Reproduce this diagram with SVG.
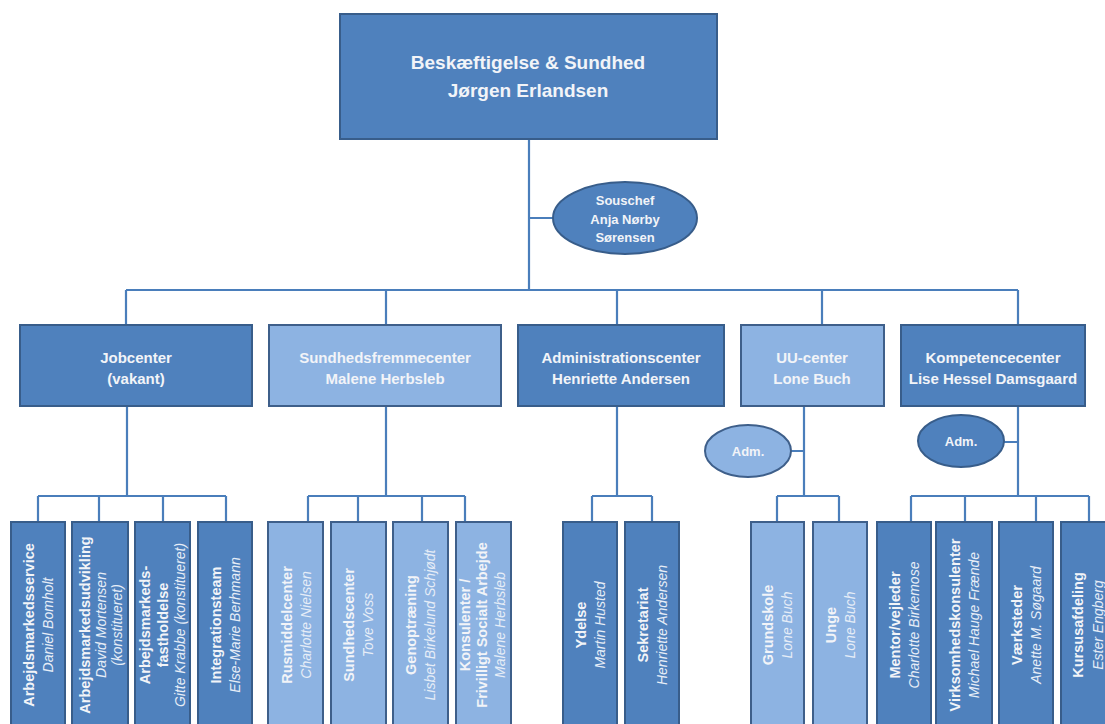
<svg xmlns="http://www.w3.org/2000/svg" width="1105" height="724" viewBox="0 0 1105 724">
<style>
.dk{fill:#4F81BD;stroke:#385D8A;stroke-width:2}
.lt{fill:#8DB3E2;stroke:#3E5F8A;stroke-width:2}
.ln{fill:none;stroke:#4A7EBB;stroke-width:2.2}
text{font-family:"Liberation Sans",Arial,sans-serif;fill:#F2F4F8;text-anchor:middle}
.h1{font-size:19px;font-weight:bold}
.h2{font-size:15px;font-weight:bold}
.h3{font-size:13px;font-weight:bold}
.b{font-size:14.5px;font-weight:bold;dominant-baseline:central}
.i{font-size:14px;font-style:italic;dominant-baseline:central;fill:#E6EDF7}
</style>
<rect width="1105" height="724" fill="#FFFFFF"/>
<g id="connectors">
<path class="ln" d="M529 139V290M529 218H553M126 290H1018M126 290V325M386 290V325M617 290V325M822 290V325M1018 290V325"/>
<path class="ln" d="M127 406V496M38 496H226M38 496V522M99 496V522M163 496V522M226 496V522"/>
<path class="ln" d="M386 406V496M308 496H465M308 496V522M358 496V522M422 496V522M465 496V522"/>
<path class="ln" d="M617 406V496M592 496H652M592 496V522M652 496V522"/>
<path class="ln" d="M804 406V496M791 451H804M777 496H839M777 496V522M839 496V522"/>
<path class="ln" d="M1018 406V496M1004 442H1018M911 496H1089M911 496V522M965 496V522M1036 496V522M1089 496V522"/>
</g>
<g id="top">
<rect class="dk" x="340" y="14" width="377" height="125"/>
<text class="h1" x="528" y="69">Beskæftigelse &amp; Sundhed</text>
<text class="h1" x="528" y="97">Jørgen Erlandsen</text>
</g>
<g id="souschef">
<ellipse class="dk" cx="625" cy="218" rx="72" ry="36"/>
<text class="h3" x="625" y="205">Souschef</text>
<text class="h3" x="625" y="224">Anja Nørby</text>
<text class="h3" x="625" y="242">Sørensen</text>
</g>
<g id="jobcenter">
<rect class="dk" x="20" y="325" width="232" height="81"/>
<text class="h2" x="136" y="363">Jobcenter</text>
<text class="h2" x="136" y="384">(vakant)</text>
</g>
<g id="sundhedsfremmecenter">
<rect class="lt" x="269" y="325" width="232" height="81"/>
<text class="h2" x="385" y="363">Sundhedsfremmecenter</text>
<text class="h2" x="385" y="384">Malene Herbsleb</text>
</g>
<g id="administrationscenter">
<rect class="dk" x="518" y="325" width="206" height="81"/>
<text class="h2" x="621" y="363">Administrationscenter</text>
<text class="h2" x="621" y="384">Henriette Andersen</text>
</g>
<g id="uu-center">
<rect class="lt" x="741" y="325" width="143" height="81"/>
<text class="h2" x="812" y="363">UU-center</text>
<text class="h2" x="812" y="384">Lone Buch</text>
</g>
<g id="kompetencecenter">
<rect class="dk" x="901" y="325" width="184" height="81"/>
<text class="h2" x="993" y="363">Kompetencecenter</text>
<text class="h2" x="993" y="384">Lise Hessel Damsgaard</text>
</g>
<g id="uu-adm">
<ellipse class="lt" cx="748" cy="451" rx="43" ry="26"/>
<text class="h3" x="748" y="456">Adm.</text>
</g>
<g id="komp-adm">
<ellipse class="dk" cx="961" cy="441" rx="43" ry="26"/>
<text class="h3" x="961" y="446">Adm.</text>
</g>
<g id="arbejdsmarkedsservice">
<rect class="dk" x="11" y="522" width="54" height="210"/>
<text class="b" transform="translate(28.5,625) rotate(-90)">Arbejdsmarkedsservice</text>
<text class="i" transform="translate(47.5,625) rotate(-90)">Daniel Bomholt</text>
</g>
<g id="arbejdsmarkedsudvikling">
<rect class="dk" x="72" y="522" width="56" height="210"/>
<text class="b" transform="translate(85,625) rotate(-90)">Arbejdsmarkedsudvikling</text>
<text class="i" transform="translate(101,625) rotate(-90)">David Mortensen</text>
<text class="i" transform="translate(117,625) rotate(-90)">(konstitueret)</text>
</g>
<g id="fastholdelse">
<rect class="dk" x="135" y="522" width="55" height="210"/>
<text class="b" transform="translate(145,625) rotate(-90)">Arbejdsmarkeds-</text>
<text class="b" transform="translate(162.5,625) rotate(-90)">fastholdelse</text>
<text class="i" transform="translate(180,625) rotate(-90)">Gitte Krabbe (konstitueret)</text>
</g>
<g id="integrationsteam">
<rect class="dk" x="198" y="522" width="54" height="210"/>
<text class="b" transform="translate(216,625) rotate(-90)">Integrationsteam</text>
<text class="i" transform="translate(235,625) rotate(-90)">Else-Marie Berhmann</text>
</g>
<g id="rusmiddelcenter">
<rect class="lt" x="268" y="522" width="55" height="210"/>
<text class="b" transform="translate(287,625) rotate(-90)">Rusmiddelcenter</text>
<text class="i" transform="translate(306,625) rotate(-90)">Charlotte Nielsen</text>
</g>
<g id="sundhedscenter">
<rect class="lt" x="331" y="522" width="55" height="210"/>
<text class="b" transform="translate(349,625) rotate(-90)">Sundhedscenter</text>
<text class="i" transform="translate(368,625) rotate(-90)">Tove Voss</text>
</g>
<g id="genoptraening">
<rect class="lt" x="393" y="522" width="55" height="210"/>
<text class="b" transform="translate(411,625) rotate(-90)">Genoptræning</text>
<text class="i" transform="translate(430,625) rotate(-90)">Lisbet Birkelund Schjødt</text>
</g>
<g id="konsulenter">
<rect class="lt" x="456" y="522" width="55" height="210"/>
<text class="b" transform="translate(465,625) rotate(-90)">Konsulenter /</text>
<text class="b" transform="translate(482,625) rotate(-90)">Frivilligt  Socialt Arbejde</text>
<text class="i" transform="translate(500,625) rotate(-90)">Malene Herbsleb</text>
</g>
<g id="ydelse">
<rect class="dk" x="563" y="522" width="54" height="210"/>
<text class="b" transform="translate(581,625) rotate(-90)">Ydelse</text>
<text class="i" transform="translate(600,625) rotate(-90)">Martin  Husted</text>
</g>
<g id="sekretariat">
<rect class="dk" x="625" y="522" width="54" height="210"/>
<text class="b" transform="translate(643,625) rotate(-90)">Sekretariat</text>
<text class="i" transform="translate(662,625) rotate(-90)">Henriette Andersen</text>
</g>
<g id="grundskole">
<rect class="lt" x="751" y="522" width="53" height="210"/>
<text class="b" transform="translate(768,625) rotate(-90)">Grundskole</text>
<text class="i" transform="translate(787,625) rotate(-90)">Lone Buch</text>
</g>
<g id="unge">
<rect class="lt" x="813" y="522" width="54" height="210"/>
<text class="b" transform="translate(831,625) rotate(-90)">Unge</text>
<text class="i" transform="translate(850,625) rotate(-90)">Lone Buch</text>
</g>
<g id="mentor">
<rect class="dk" x="877" y="522" width="54" height="210"/>
<text class="b" transform="translate(895,625) rotate(-90)">Mentor/vejleder</text>
<text class="i" transform="translate(914,625) rotate(-90)">Charlotte  Birkemose</text>
</g>
<g id="virksomhedskonsulenter">
<rect class="dk" x="936" y="522" width="56" height="210"/>
<text class="b" transform="translate(955,625) rotate(-90)">Virksomhedskonsulenter</text>
<text class="i" transform="translate(974,625) rotate(-90)">Michael Hauge Frænde</text>
</g>
<g id="vaerksteder">
<rect class="dk" x="999" y="522" width="54" height="210"/>
<text class="b" transform="translate(1017,625) rotate(-90)">Værksteder</text>
<text class="i" transform="translate(1036,625) rotate(-90)">Anette M. Søgaard</text>
</g>
<g id="kursusafdeling">
<rect class="dk" x="1061" y="522" width="56" height="210"/>
<text class="b" transform="translate(1078,625) rotate(-90)">Kursusafdeling</text>
<text class="i" transform="translate(1098,625) rotate(-90)">Ester Engberg</text>
</g>
</svg>
